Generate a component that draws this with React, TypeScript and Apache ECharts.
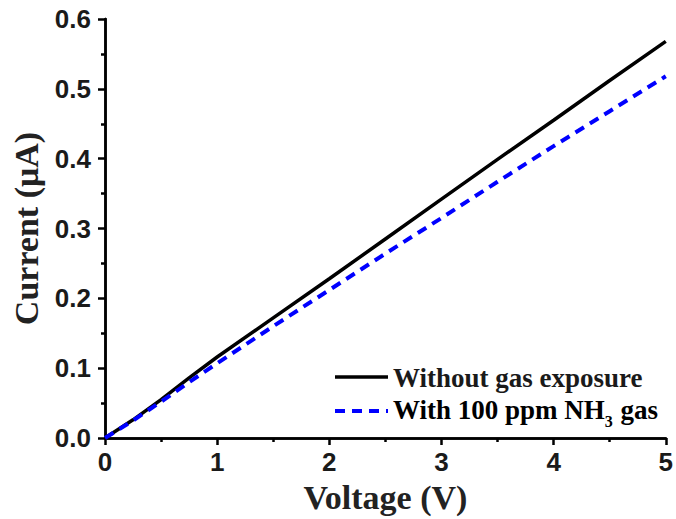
import React, { useEffect, useRef } from "react";
import * as echarts from "echarts";

const voltage = [0, 0.25, 0.5, 0.75, 1, 1.5, 2, 2.5, 3, 3.5, 4, 4.5, 5];
const currentNoGas = [0, 0.026, 0.055, 0.086, 0.116, 0.172, 0.228, 0.285, 0.342, 0.399, 0.455, 0.512, 0.568];
const currentNH3 = [0, 0.025, 0.052, 0.08, 0.107, 0.16, 0.212, 0.264, 0.315, 0.367, 0.418, 0.468, 0.518];
const seriesNames = ["Without gas exposure", "With 100 ppm NH3 gas"];

const SERIF = "'Liberation Serif', 'Times New Roman', serif";
const SANS = "'Liberation Sans', Arial, sans-serif";

export default function App() {
  const ref = useRef<HTMLDivElement>(null);
  useEffect(() => {
    if (!ref.current) return;
    const chart = echarts.init(ref.current, null, { renderer: "svg" });
    const axisLine = { show: true, lineStyle: { color: "#000", width: 2.5 } };
    const pair = (ys: number[]) => voltage.map((v, i) => [v, ys[i]]);
    chart.setOption({
      animation: false,
      backgroundColor: "#fff",
      grid: { left: 105, top: 19, right: 6, bottom: 79, containLabel: false },
      xAxis: [
        {
          type: "value",
          min: 0,
          max: 5,
          interval: 1,
          name: "Voltage (V)",
          nameLocation: "middle",
          nameGap: 42,
          nameTextStyle: { fontFamily: SERIF, fontWeight: "bold", fontSize: 34, color: "#222" },
          axisLine,
          axisTick: { show: true, inside: false, length: 7, lineStyle: { width: 2.5, color: "#000" } },
          minorTick: { show: true, splitNumber: 2, length: 4, lineStyle: { width: 2.5, color: "#000" } },
          splitLine: { show: false },
          axisLabel: { fontFamily: SANS, fontWeight: "bold", fontSize: 26, color: "#1a1a1a", margin: 11 },
        },
        {
          type: "value",
          position: "top",
          min: 0,
          max: 5,
          axisLine,
          axisTick: { show: false },
          axisLabel: { show: false },
          splitLine: { show: false },
        },
      ],
      yAxis: [
        {
          type: "value",
          min: 0,
          max: 0.6,
          interval: 0.1,
          name: "Current (\u03bcA)",
          nameLocation: "middle",
          nameGap: 60,
          nameTextStyle: { fontFamily: SERIF, fontWeight: "bold", fontSize: 34, color: "#222" },
          axisLine,
          axisTick: { show: true, inside: false, length: 7, lineStyle: { width: 2.5, color: "#000" } },
          minorTick: { show: true, splitNumber: 2, length: 4, lineStyle: { width: 2.5, color: "#000" } },
          splitLine: { show: false },
          axisLabel: {
            fontFamily: SANS,
            fontWeight: "bold",
            fontSize: 26,
            color: "#1a1a1a",
            margin: 14,
            formatter: (v: number) => v.toFixed(1),
          },
        },
        {
          type: "value",
          position: "right",
          min: 0,
          max: 0.6,
          axisLine,
          axisTick: { show: false },
          axisLabel: { show: false },
          splitLine: { show: false },
        },
      ],
      series: [
        {
          name: seriesNames[0],
          type: "line",
          data: pair(currentNoGas),
          symbol: "none",
          lineStyle: { color: "#000", width: 3.5 },
          z: 3,
        },
        {
          name: seriesNames[1],
          type: "line",
          data: pair(currentNH3),
          symbol: "none",
          lineStyle: { color: "#0000ff", width: 4, type: [10, 7] },
          z: 4,
        },
      ],
      graphic: [
        { type: "line", shape: { x1: 335, y1: 377, x2: 388, y2: 377 }, style: { stroke: "#000", lineWidth: 3.5 } },
        {
          type: "text",
          x: 393,
          y: 378,
          style: {
            text: seriesNames[0],
            font: `bold 27px ${SERIF}`,
            fill: "#1a1a1a",
            verticalAlign: "middle",
          },
        },
        {
          type: "line",
          shape: { x1: 335, y1: 411, x2: 388, y2: 411 },
          style: { stroke: "#0000ff", lineWidth: 4, lineDash: [10, 7] },
        },
        {
          type: "text",
          x: 393,
          y: 410,
          style: {
            text: "{a|With 100 ppm NH}{s|3}{a| gas}",
            verticalAlign: "middle",
            rich: {
              a: { fontFamily: SERIF, fontWeight: "bold", fontSize: 27, color: "#1a1a1a" },
              s: { fontFamily: SERIF, fontWeight: "bold", fontSize: 16, color: "#1a1a1a", padding: [22, 1, 0, 0] },
            },
          },
        },
      ],
    });
    return () => chart.dispose();
  }, []);
  return <div ref={ref} style={{ width: 676, height: 519, position: "absolute", left: 0, top: 0 }} />;
}
